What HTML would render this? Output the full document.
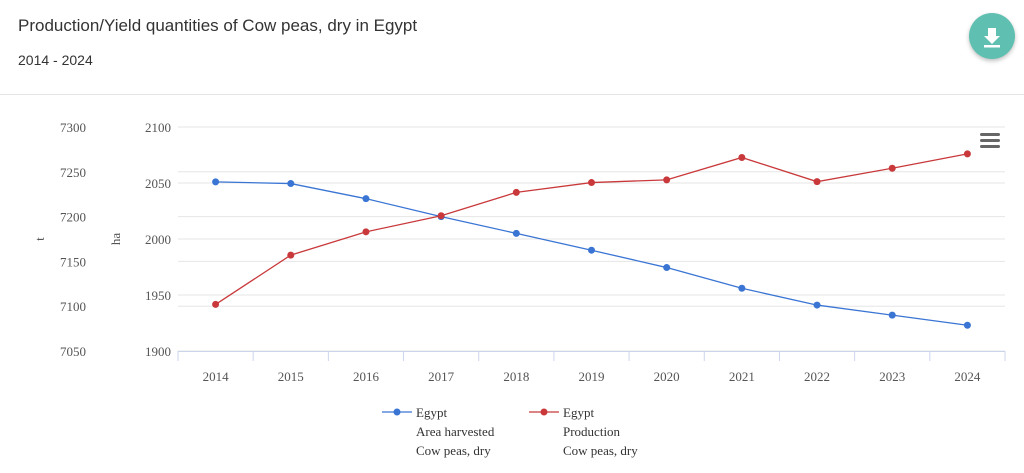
<!DOCTYPE html>
<html><head><meta charset="utf-8"><style>
body{margin:0;width:1024px;height:473px;background:#fff;font-family:"Liberation Sans",sans-serif;overflow:hidden;position:relative}
.t{position:absolute;left:18px;top:16px;font-size:17px;color:#333}
.s{position:absolute;left:18px;top:52px;font-size:14px;color:#333}
.hr{position:absolute;left:0;top:94px;width:1024px;height:1px;background:#e6e6e6}
.dl{position:absolute;left:969px;top:13px;width:46px;height:46px;border-radius:50%;background:#5fbfb1;box-shadow:0 2px 4px rgba(0,0,0,.25)}
</style></head><body>
<div class="t">Production/Yield quantities of Cow peas, dry in Egypt</div>
<div class="s">2014 - 2024</div>
<div class="hr"></div>
<div class="dl"><svg width="46" height="46"><path d="M19 15h8v8h4l-8 8-8-8h4z" fill="#fff"/><rect x="15" y="32" width="16" height="2.5" fill="#fff"/></svg></div>
<svg id="c" width="1024" height="473" style="position:absolute;left:0;top:0"></svg>
<script>
const years=["2014","2015","2016","2017","2018","2019","2020","2021","2022","2023","2024"];
const areaHa=[2051,2049.5,2036,2020,2005,1990,1974.5,1956,1941,1932,1923];
const prodT=[7102,7157,7183,7201,7227,7238,7241,7266,7239,7254,7270];
const haTicks=[1900,1950,2000,2050,2100];
const tTicks=[7050,7100,7150,7200,7250,7300];
const NS="http://www.w3.org/2000/svg",svg=document.getElementById('c');
const L=178,R=1005,T=127,B=351,bw=(R-L)/years.length;
const x=i=>L+bw*(i+0.5);
const yHa=v=>B-(v-1900)/200*(B-T);
const yT=v=>B-(v-7050)/250*(B-T);
function el(n,a,p){const e=document.createElementNS(NS,n);for(const k in a)e.setAttribute(k,a[k]);(p||svg).appendChild(e);return e;}
haTicks.forEach(v=>{const g=el('line',{x1:L,x2:R,y1:yHa(v),y2:yHa(v),stroke:'#e6e6e6'});

const t=el('text',{x:171,y:yHa(v)+5,'text-anchor':'end','font-size':13,fill:'#555','font-family':'Liberation Serif'});t.textContent=v;
});
tTicks.forEach(v=>{const g=el('line',{x1:L,x2:R,y1:yT(v),y2:yT(v),stroke:'#e6e6e6'});

const t=el('text',{x:86,y:yT(v)+5,'text-anchor':'end','font-size':13,fill:'#555','font-family':'Liberation Serif'});t.textContent=v;
});
let a=el('text',{x:0,y:0,transform:'translate(44,239) rotate(-90)','text-anchor':'middle','font-size':13,fill:'#555','font-family':'Liberation Serif'});a.textContent='t';

a=el('text',{x:0,y:0,transform:'translate(120,239) rotate(-90)','text-anchor':'middle','font-size':13,fill:'#555','font-family':'Liberation Serif'});a.textContent='ha';

el('line',{x1:L,x2:R,y1:B+0.5,y2:B+0.5,stroke:'#ccd6eb'});
for(let i=0;i<=years.length;i++)el('line',{x1:L+bw*i,x2:L+bw*i,y1:B,y2:B+10,stroke:'#ccd6eb'});
years.forEach((y,i)=>{const t=el('text',{x:x(i),y:381,'text-anchor':'middle','font-size':13,fill:'#555','font-family':'Liberation Serif'});t.textContent=y;
});
function series(vals,fy,col,name){const p=el('polyline',{points:vals.map((v,i)=>x(i)+','+fy(v)).join(' '),fill:'none',stroke:col,'stroke-width':1.3});

vals.forEach((v,i)=>{const c=el('circle',{cx:x(i),cy:fy(v),r:3.5,fill:col});
});}
series(areaHa,yHa,'#3a75d4','area');
series(prodT,yT,'#c9393b','production');
function leg(lx,col,lines,name){const g=el('g',{});
el('line',{x1:lx,x2:lx+30,y1:412,y2:412,stroke:col,'stroke-width':1.3},g);el('circle',{cx:lx+15,cy:412,r:3.5,fill:col},g);
lines.forEach((s,k)=>{const t=el('text',{x:lx+34,y:417+k*19,'font-size':13,fill:'#333','font-family':'Liberation Serif'},g);t.textContent=s;});}
leg(382,'#3a75d4',['Egypt','Area harvested','Cow peas, dry'],'legend-area');
leg(529,'#c9393b',['Egypt','Production','Cow peas, dry'],'legend-production');
const m=el('g',{});
[133,139,145].forEach(y=>el('rect',{x:980,y:y,width:20,height:3,rx:1.5,fill:'#666'},m));
</script>
</body></html>
